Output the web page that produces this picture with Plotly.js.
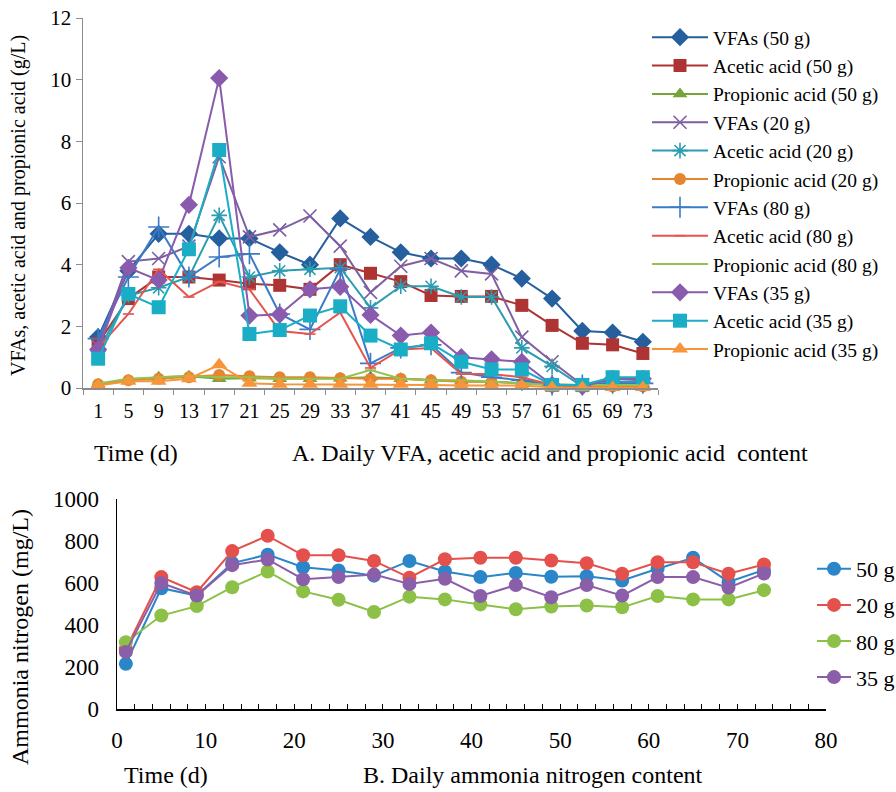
<!DOCTYPE html>
<html>
<head>
<meta charset="utf-8">
<script src="https://cdn.plot.ly/plotly-3.0.1.min.js"></script>
<style>html,body{margin:0;padding:0;background:#fff;}#chart{width:896px;height:792px;}</style>
</head>
<body>
<div id="chart"></div>
<script>
// ---- Panel A data (g/L) ----
const days = ["1","5","9","13","17","21","25","29","33","37","41","45","49","53","57","61","65","69","73"];
const vfa50    = [1.65,3.8,5.0,5.0,4.85,4.85,4.4,4.0,5.5,4.9,4.4,4.2,4.2,4.0,3.55,2.9,1.85,1.8,1.5];
const acetic50 = [1.45,2.9,3.6,3.6,3.5,3.38,3.33,3.2,4.0,3.72,3.45,3.0,2.97,2.97,2.68,2.03,1.45,1.4,1.12];
const prop50   = [0.12,0.25,0.35,0.38,0.3,0.32,0.3,0.3,0.32,0.35,0.3,0.25,0.22,0.2,0.15,0.12,0.1,0.1,0.1];
const vfa20    = [1.35,4.1,4.2,4.6,7.5,4.9,5.13,5.58,4.6,3.1,3.95,4.2,3.8,3.7,1.65,0.85,0.1,0.3,0.25];
const acetic20 = [1.2,3.0,3.25,3.6,5.6,3.6,3.8,3.85,3.9,2.6,3.3,3.3,2.95,2.95,1.3,0.7,0.05,0.2,0.2];
const prop20   = [0.12,0.25,0.3,0.35,0.42,0.38,0.35,0.35,0.32,0.3,0.3,0.25,0.2,0.2,0.15,0.1,0.05,0.05,0.05];
const vfa80    = [1.6,3.6,5.22,3.6,4.25,4.35,2.4,1.9,3.85,0.8,1.3,1.4,0.5,0.35,0.25,0.1,0.1,0.15,0.15];
const acetic80 = [1.3,2.4,3.85,2.95,3.45,3.2,1.85,1.75,2.45,0.65,1.25,1.3,0.45,0.45,0.35,0.1,0.02,0.02,0.02];
const prop80   = [0.15,0.3,0.35,0.4,0.35,0.35,0.3,0.3,0.3,0.58,0.3,0.25,0.25,0.2,0.15,0.1,0.1,0.1,0.1];
const vfa35    = [1.25,3.9,3.5,5.94,10.05,2.35,2.38,3.2,3.28,2.37,1.7,1.8,1.0,0.93,0.85,0.1,0.05,0.3,0.3];
const acetic35 = [0.95,3.05,2.62,4.5,7.72,1.75,1.88,2.35,2.65,1.7,1.25,1.45,0.85,0.6,0.6,0.1,0.1,0.35,0.35];
const prop35   = [0.08,0.22,0.22,0.3,0.75,0.15,0.12,0.12,0.12,0.12,0.12,0.1,0.08,0.08,0.08,0.02,0.02,0.02,0.02];

// ---- Panel B data (mg/L) ----
const daysB = [1,5,9,13,17,21,25,29,33,37,41,45,49,53,57,61,65,69,73];
const nh50 = [215,575,540,695,735,675,660,635,705,655,628,648,630,632,612,668,720,605,662];
const nh20 = [285,628,556,752,825,732,732,705,625,713,720,720,707,694,644,699,699,644,688];
const nh80 = [318,445,490,580,655,560,520,462,535,522,498,475,488,493,484,538,522,522,566];
const nh35 = [272,600,540,685,712,618,628,640,595,620,538,590,532,590,540,628,628,578,645];

const FONT = "Liberation Serif";

function A(name, y, color, symbol, size, open) {
  const m = {symbol: symbol, size: size, color: color};
  if (open) m.line = {color: color, width: 1.6};
  return {
    type: 'scatter', mode: 'lines+markers', name: name, x: days, y: y,
    xaxis: 'x', yaxis: 'y', legend: 'legend', legendgroup: name,
    line: {color: color, width: 2}, marker: m, cliponaxis: false
  };
}
function B(name, y, color) {
  return {
    type: 'scatter', mode: 'lines+markers', name: name, x: daysB, y: y,
    xaxis: 'x2', yaxis: 'y2', legend: 'legend2', legendgroup: name,
    line: {color: color, width: 2}, marker: {symbol: 'circle', size: 14, color: color},
    cliponaxis: false
  };
}

const traces = [
  A('VFAs (50 g)', vfa50, '#255f9e', 'diamond', 14),
  A('Acetic acid (50 g)', acetic50, '#ad3433', 'square', 13),
  A('Propionic acid (50 g)', prop50, '#74a43b', 'triangle-up', 13),
  A('VFAs (20 g)', vfa20, '#7d5fa2', 'x-thin-open', 13, true),
  A('Acetic acid (20 g)', acetic20, '#2c9db0', 'asterisk-open', 13, true),
  A('Propionic acid (20 g)', prop20, '#e58530', 'circle', 12),
  A('VFAs (80 g)', vfa80, '#3b7bc6', 'cross-thin-open', 15, true),
  A('Acetic acid (80 g)', acetic80, '#e5544e', 'line-ew-open', 8, true),
  A('Propionic acid (80 g)', prop80, '#95c24f', 'line-ew-open', 8, true),
  A('VFAs (35 g)', vfa35, '#8a5aad', 'diamond', 14),
  A('Acetic acid (35 g)', acetic35, '#19aec6', 'square', 14),
  A('Propionic acid (35 g)', prop35, '#f7953a', 'triangle-up', 14),
  B('50 g', nh50, '#2a85c9'),
  B('20 g', nh20, '#e4504b'),
  B('80 g', nh80, '#8cc046'),
  B('35 g', nh35, '#8b5ea9')
];

const W = 896, H = 792;
const px = v => v / W, py = v => 1 - v / H;

const layout = {
  width: W, height: H,
  margin: {l: 0, r: 0, t: 0, b: 0, autoexpand: false},
  paper_bgcolor: '#ffffff', plot_bgcolor: 'rgba(0,0,0,0)',
  font: {family: FONT, color: '#000', size: 16},
  showlegend: true,
  xaxis: {
    type: 'category', domain: [px(83), px(658)], anchor: 'y',
    range: [-0.5, 18.5], tickson: 'boundaries', ticks: 'outside', ticklen: 5,
    tickcolor: '#8c8c8c', showline: true, linecolor: '#8c8c8c', linewidth: 1.5,
    showgrid: false, zeroline: false, tickfont: {size: 20, family: FONT, color: '#000'},
    ticklabelstandoff: 4, fixedrange: true
  },
  yaxis: {
    domain: [1 - 388 / H, 1 - 18 / H], anchor: 'x', range: [0, 12], dtick: 2,
    ticks: 'outside', ticklen: 6, tickcolor: '#8c8c8c', showline: true,
    linecolor: '#8c8c8c', linewidth: 1.5, showgrid: false, zeroline: false,
    tickfont: {size: 21, family: FONT, color: '#000'}, fixedrange: true
  },
  xaxis2: {
    domain: [px(117), px(826)], anchor: 'y2', range: [0, 80], dtick: 10,
    ticks: 'inside', ticklen: 5, tickcolor: '#000', showline: true,
    linecolor: '#000', linewidth: 1.5, showgrid: false, zeroline: false,
    minor: {dtick: 2, ticks: 'inside', ticklen: 5, tickcolor: '#000', showgrid: false},
    tickfont: {size: 23, family: FONT, color: '#000'}, ticklabelstandoff: 10,
    fixedrange: true
  },
  yaxis2: {
    domain: [1 - 709 / H, 1 - 499 / H], anchor: 'x2', range: [0, 1000], dtick: 200,
    ticks: '', showline: true, linecolor: '#000', linewidth: 1.5,
    showgrid: false, zeroline: false, ticklabelstandoff: 12,
    tickfont: {size: 23, family: FONT, color: '#000'}, fixedrange: true
  },
  legend: {
    x: px(647), y: py(18), xanchor: 'left', yanchor: 'top',
    font: {size: 19.5, family: FONT, color: '#000'}, tracegroupgap: 0,
    itemwidth: 56, bgcolor: 'rgba(0,0,0,0)', borderwidth: 0, traceorder: 'grouped'
  },
  legend2: {
    x: px(812), y: py(548), xanchor: 'left', yanchor: 'top',
    font: {size: 22, family: FONT, color: '#000'}, tracegroupgap: 4.5,
    itemwidth: 34, bgcolor: 'rgba(0,0,0,0)', borderwidth: 0, traceorder: 'grouped'
  },
  annotations: [
    {text: 'VFAs, acetic acid and propionic acid (g/L)', xref: 'paper', yref: 'paper',
     x: px(18), y: py(206), textangle: -90, showarrow: false,
     xanchor: 'center', yanchor: 'middle', font: {size: 20, family: FONT}},
    {text: 'Time (d)', xref: 'paper', yref: 'paper', x: px(136), y: py(453),
     showarrow: false, xanchor: 'center', yanchor: 'middle', font: {size: 24, family: FONT}},
    {text: 'A. Daily VFA, acetic acid and propionic acid  content', xref: 'paper', yref: 'paper',
     x: px(550), y: py(453), showarrow: false, xanchor: 'center', yanchor: 'middle',
     font: {size: 24, family: FONT}},
    {text: 'Ammonia nitrogen (mg/L)', xref: 'paper', yref: 'paper',
     x: px(20), y: py(637), textangle: -90, showarrow: false,
     xanchor: 'center', yanchor: 'middle', font: {size: 24, family: FONT}},
    {text: 'Time (d)', xref: 'paper', yref: 'paper', x: px(166), y: py(775),
     showarrow: false, xanchor: 'center', yanchor: 'middle', font: {size: 24, family: FONT}},
    {text: 'B. Daily ammonia nitrogen content', xref: 'paper', yref: 'paper',
     x: px(533), y: py(775), showarrow: false, xanchor: 'center', yanchor: 'middle',
     font: {size: 24, family: FONT}}
  ]
};

Plotly.newPlot('chart', traces, layout, {staticPlot: true, displayModeBar: false});
</script>
</body>
</html>
